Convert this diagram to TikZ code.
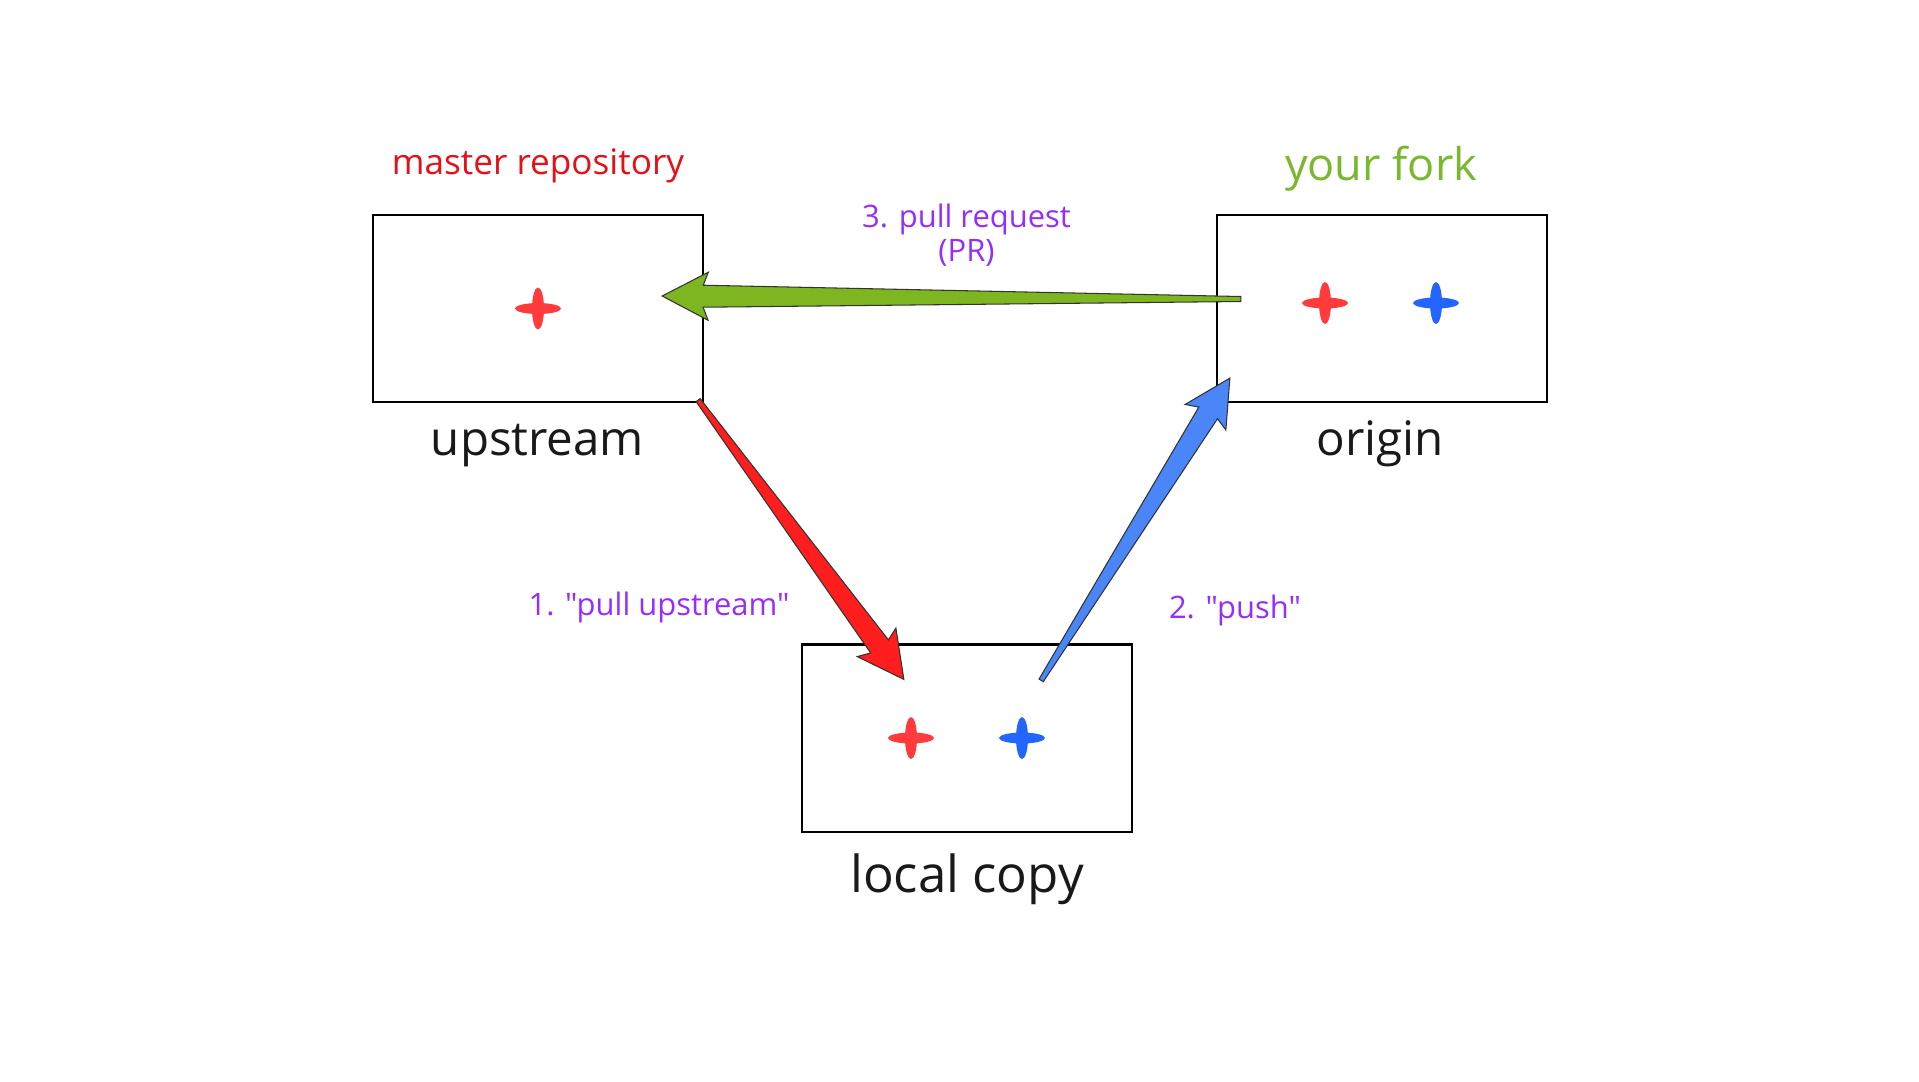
\documentclass[tikz,border=0pt]{standalone}
\usepackage{fontspec}
\setmainfont{Open Sans}[Ligatures=TeXOff]
\usetikzlibrary{calc}
\definecolor{masterred}{RGB}{230,16,24}
\definecolor{forkgreen}{RGB}{124,184,47}
\definecolor{labelpurple}{RGB}{150,45,255}
\definecolor{arrowred}{RGB}{255,30,30}
\definecolor{arrowgreen}{RGB}{125,182,32}
\definecolor{arrowblue}{RGB}{74,134,248}
\definecolor{plusred}{RGB}{255,59,59}
\definecolor{plusblue}{RGB}{34,102,255}

\begin{document}
\begin{tikzpicture}[x=0.01cm,y=-0.01cm,
	repo/.style={draw,line width=0.6pt,minimum width=3.3cm,minimum height=1.87cm,inner sep=0pt},
	reponame/.style={anchor=base,inner sep=0pt,font=\fontsize{13.5}{16}\selectfont,text=black!90},
	cmdlabel/.style={anchor=base,inner sep=0pt,font=\fontsize{8.8}{7.4}\selectfont,text=labelpurple,align=center},
	fat/.style={draw=black!80,line width=0.3pt,line join=miter}]
\fill[white] (0,0) rectangle (1919,1081);
\useasboundingbox (0,0) rectangle (1919,1081);
\node[repo] (up) at (538,308.5) {};
\node[repo] (org) at (1382,308.5) {};
\node[repo] (loc) at (967,738) {};

\node[reponame] (upname) at (537.5,455) {upstream};
\node[reponame] (orgname) at (1380,455) {origin};
\node[reponame,font=\fontsize{14.5}{17}\selectfont] (locname) at (967,892) {local copy};
\node[anchor=base,inner sep=0pt,font=\fontsize{10}{12}\selectfont,text=masterred] (master) at (538,174) {master repository};
\node[anchor=base,inner sep=0pt,font=\fontsize{12.8}{15}\selectfont,text=forkgreen] (fork) at (1381,180) {your fork};

\node[cmdlabel] (pull) at (659,615) {1. "pull upstream"};
\node[cmdlabel] (push) at (1235,618) {2. "push"};
\node[cmdlabel] (pr) at (966.5,261) {3. pull request\\(PR)};

\foreach \b/\dx/\dy/\c in {up/0/0/plusred, org/-57/-5.5/plusred, org/54/-5.5/plusblue, loc/-56/0/plusred, loc/55/0/plusblue} {
	\fill[\c] ($(\b.center)+(\dx,\dy)$) ellipse [x radius=0.23cm, y radius=0.055cm];
	\fill[\c] ($(\b.center)+(\dx,\dy)$) ellipse [x radius=0.06cm, y radius=0.21cm];
}

\coordinate (gtail) at ($(org.west)+(25,-9.5)$);
\coordinate (gtip) at ($(up.east)+(-42,-12.5)$);
\coordinate (rtail) at ($(up.south east)+(-6,-3)$);
\coordinate (rtip) at ($(loc.north west)+(103,36)$);
\coordinate (btail) at ($(loc.north east)+(-92,37)$);
\coordinate (btip) at ($(org.south west)+(14,-25)$);

\foreach \t/\h/\c in {rtail/rtip/arrowred, btail/btip/arrowblue, gtail/gtip/arrowgreen}
	\filldraw[fat,fill=\c] ($(\t)!0.025cm!90:(\h)$)
		-- ($(\h)!0.41cm!(\t)!0.11cm!-90:(\t)$)
		-- ($(\h)!0.46cm!(\t)!0.24cm!-90:(\t)$)
		-- (\h)
		-- ($(\h)!0.46cm!(\t)!0.24cm!90:(\t)$)
		-- ($(\h)!0.41cm!(\t)!0.11cm!90:(\t)$)
		-- ($(\t)!0.025cm!-90:(\h)$) -- cycle;
\end{tikzpicture}
\end{document}
